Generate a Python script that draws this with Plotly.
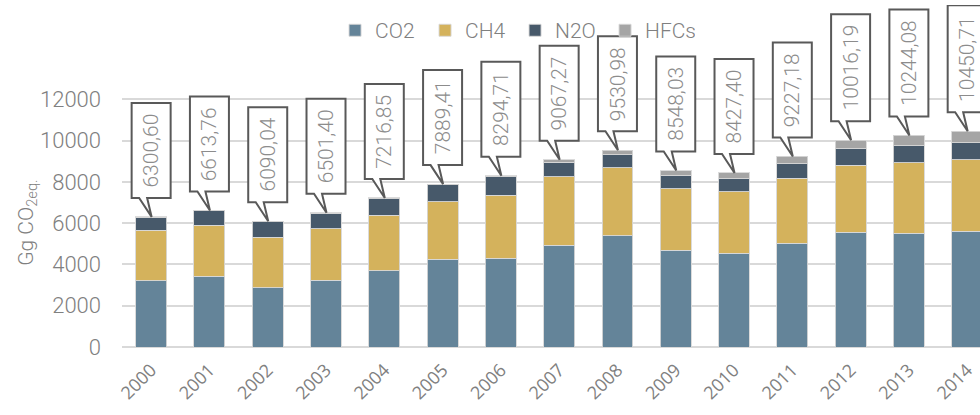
import plotly.graph_objects as go

years = [2000, 2001, 2002, 2003, 2004, 2005, 2006, 2007, 2008, 2009, 2010, 2011, 2012, 2013, 2014]
co2 = [3220.0, 3417.0, 2870.0, 3223.0, 3692.0, 4239.0, 4307.0, 4916.0, 5400.0, 4675.0, 4549.0, 5033.0, 5546.0, 5517.0, 5594.0]
ch4 = [2442.0, 2487.0, 2434.0, 2516.0, 2696.0, 2807.0, 3048.0, 3339.0, 3291.0, 2985.0, 2966.0, 3145.0, 3261.0, 3416.0, 3470.0]
n2o = [633.0, 700.0, 772.0, 742.0, 800.0, 803.0, 880.0, 697.0, 629.0, 644.0, 629.0, 707.0, 804.0, 823.0, 837.0]
hfcs = [5.60, 9.76, 14.04, 20.40, 28.85, 40.41, 59.71, 115.27, 210.98, 244.03, 283.40, 342.18, 405.19, 488.08, 549.71]
totals = [6300.60, 6613.76, 6090.04, 6501.40, 7216.85, 7889.41, 8294.71, 9067.27, 9530.98, 8548.03, 8427.40, 9227.18, 10016.19, 10244.08, 10450.71]
series_names = ["CO2", "CH4", "N2O", "HFCs"]
y_ticks = [0, 2000, 4000, 6000, 8000, 10000, 12000]

colors = ["#648499", "#D4B25C", "#47596A", "#A5A5A5"]
FONT = "Roboto, 'Open Sans', sans-serif"
GRAY = "#808080"

fig = go.Figure()
for name, vals, col in zip(series_names, [co2, ch4, n2o, hfcs], colors):
    fig.add_trace(go.Bar(
        x=years, y=vals, name=name, width=0.53,
        marker=dict(color=col, line=dict(color="rgba(215,215,215,0.9)", width=1)),
    ))

gap = 19
for yr, tot in zip(years, totals):
    label = f"{tot:.2f}".replace(".", ",")
    H = 95 + 12 * (len(label) - 7)
    path = (f"M-19.5,{gap} L-12,{gap} L0.5,0 L-4,{gap} L19.5,{gap} "
            f"L19.5,{gap + H} L-19.5,{gap + H} Z")
    fig.add_shape(type="path", xref="x", yref="y", xsizemode="pixel", ysizemode="pixel",
                  xanchor=yr, yanchor=tot, path=path, fillcolor="white",
                  line=dict(color="#595959", width=2), layer="above")
    fig.add_annotation(x=yr, y=tot, yshift=gap + H / 2, text=label, showarrow=False,
                       textangle=-90, font=dict(family=FONT, size=21, color="#8C8C8C", weight=300),
                       xanchor="center", yanchor="middle")

fig.add_annotation(xref="paper", yref="y", x=-0.111, y=6000, text="Gg CO<sub>2eq.</sub>",
                   showarrow=False, textangle=-90, xanchor="center", yanchor="middle",
                   font=dict(family=FONT, size=21, color=GRAY, weight=300))

top = 12000 * 342.3 / 248.0
fig.update_layout(
    width=980, height=415,
    margin=dict(l=122, r=0, t=5, b=68),
    barmode="stack",
    plot_bgcolor="white", paper_bgcolor="white",
    showlegend=True,
    legend=dict(orientation="h", x=0.2483, y=0.985, xanchor="left", yanchor="top",
                font=dict(family=FONT, size=21, color=GRAY, weight=300), entrywidth=45,
                bgcolor="rgba(0,0,0,0)", traceorder="normal"),
    xaxis=dict(range=[1999.5, 2014.22], tickmode="array", tickvals=years,
               ticktext=[str(y) for y in years], tickangle=-45,
               tickfont=dict(family="'Open Sans', sans-serif", size=18, color=GRAY),
               showgrid=False, showline=False, zeroline=False, ticks="",
               ticklabelstandoff=8),
    yaxis=dict(range=[0, top], tickmode="array", tickvals=y_ticks,
               ticktext=[str(v) for v in y_ticks],
               tickfont=dict(family=FONT, size=22, color=GRAY, weight=300),
               showgrid=True, gridcolor="#D9D9D9", gridwidth=1.6,
               zeroline=True, zerolinecolor="#D9D9D9", zerolinewidth=2,
               showline=False, ticks="", ticklabelstandoff=20),
    bargap=0.47,
)
fig.write_html("out.html", config={"displayModeBar": False},
               post_script="document.body.style.margin='0';document.body.style.padding='0';")
